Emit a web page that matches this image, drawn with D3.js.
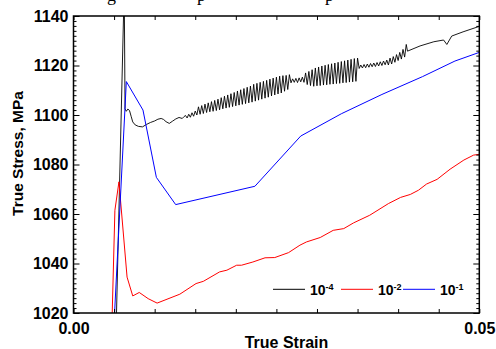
<!DOCTYPE html>
<html>
<head>
<meta charset="utf-8">
<script src="https://cdn.jsdelivr.net/npm/d3@7"></script>
<style>
  body { margin: 0; background: #fff; }
  svg { display: block; }
  text { font-family: Arial, "Liberation Sans", sans-serif; }
</style>
</head>
<body>
<div class="chart"></div>
<script>
// strain rate labels (exponent of 10)
const rates = ['-4', '-2', '-1'];
const colors = ['#000000', '#ff0000', '#0000ff'];

// 10^-4 curve [true strain, true stress MPa]
const black = [
  [0.00523,1010],[0.0053,1020],[0.00625,1152],[0.00635,1102.5],[0.0065,1101.5],[0.0067,1102.4],
  [0.0069,1101.8],[0.0071,1099.5],[0.0073,1097.2],[0.0076,1096.0],[0.0080,1095.4],[0.0085,1095.2],
  [0.0090,1096.2],[0.0095,1097.0],[0.0100,1097.6],[0.0104,1098.3],[0.0108,1098.6],[0.0111,1098.2],
  [0.0114,1097.3],[0.0118,1096.6],[0.0122,1097.5],[0.0126,1098.4],[0.0130,1099.0],[0.0134,1098.6],
  [0.0136,1099.3],
  [0.0138,1099.8],[0.0140,1098.8],[0.0142,1100.3],[0.0144,1099.1],[0.0146,1100.9],[0.0148,1099.5],
  [0.0150,1101.6],
  [0.0152,1100.0],[0.0154,1103.3],[0.0156,1100.3],[0.0158,1103.8],[0.0160,1100.6],[0.0162,1104.4],
  [0.0164,1101.0],[0.0166,1104.9],[0.0168,1101.3],[0.0170,1105.4],[0.0172,1101.5],[0.0174,1105.9],
  [0.0176,1101.8],[0.0178,1106.4],[0.0180,1102.1],[0.0182,1107.0],[0.0184,1102.5],[0.0186,1107.6],
  [0.0188,1102.8],[0.0190,1108.1],[0.0192,1103.1],[0.0194,1108.6],[0.0196,1103.4],[0.0198,1109.1],
  [0.0200,1103.7],[0.0202,1109.7],[0.0204,1104.0],[0.0206,1110.2],[0.0208,1104.3],[0.0210,1110.7],
  [0.0212,1104.6],[0.0214,1111.2],[0.0216,1104.9],[0.0218,1111.7],[0.0220,1105.2],[0.0222,1112.4],
  [0.0224,1105.6],[0.0226,1112.8],[0.0228,1106.0],[0.0230,1113.2],[0.0232,1106.4],[0.0234,1113.6],
  [0.0236,1106.8],[0.0238,1114.0],[0.0240,1107.2],[0.0242,1114.5],[0.0244,1107.7],[0.0246,1114.9],
  [0.0248,1108.1],[0.0250,1115.3],[0.0252,1108.5],[0.0254,1115.7],[0.0256,1108.9],[0.0258,1115.9],
  [0.0260,1109.6],[0.0262,1116.0],[0.0264,1110.3],[0.0266,1116.3],
  [0.0268,1113.0],[0.0270,1114.6],[0.0272,1113.2],[0.0274,1114.8],[0.0276,1113.1],[0.0278,1115.0],
  [0.0280,1113.4],[0.0282,1115.3],[0.0284,1113.2],
  [0.0286,1117.0],[0.0288,1112.3],[0.0290,1117.6],[0.0292,1111.9],[0.0294,1118.3],[0.0296,1111.6],
  [0.0298,1119.0],[0.0300,1111.8],[0.0302,1119.4],[0.0304,1111.9],[0.0306,1119.8],[0.0308,1112.1],
  [0.0310,1120.1],[0.0312,1112.2],[0.0314,1120.4],[0.0316,1112.4],[0.0318,1120.7],[0.0320,1112.5],
  [0.0322,1121.0],[0.0324,1112.7],[0.0326,1121.3],[0.0328,1112.8],[0.0330,1121.6],[0.0332,1113.0],
  [0.0334,1121.9],[0.0336,1113.1],[0.0338,1122.2],[0.0340,1113.3],[0.0342,1122.5],[0.0344,1113.4],
  [0.0346,1122.8],[0.0348,1113.6],[0.0350,1123.0],
  [0.0352,1118.8],[0.0354,1120.2],[0.0356,1119.0],[0.0358,1120.4],[0.0360,1119.1],[0.0362,1120.6],
  [0.0364,1119.3],[0.0366,1120.8],[0.0368,1119.5],[0.0370,1121.0],[0.0372,1119.6],[0.0374,1121.2],
  [0.0376,1119.8],[0.0378,1121.5],[0.0380,1120.0],[0.0382,1121.8],[0.0384,1120.3],[0.0386,1122.2],
  [0.0388,1120.2],[0.0390,1123.0],[0.0392,1120.6],[0.0394,1123.6],[0.0396,1121.3],[0.0398,1124.4],
  [0.0400,1122.0],[0.0402,1125.3],[0.0404,1122.6],[0.0406,1126.5],[0.0408,1123.4],[0.0410,1128.5],
  [0.04115,1125.8],[0.0427,1127.9],[0.0444,1129.6],[0.0456,1130.3],[0.0460,1128.5],[0.0466,1131.9],
  [0.0480,1133.6],[0.0499,1135.7],[0.0500,1135.9]
];

// 10^-2 curve
const red = [
  [0.00469,1010],[0.00477,1020],[0.0051,1061.5],[0.0056,1073],[0.0066,1034.5],[0.0073,1026.9],
  [0.0081,1028.3],[0.0092,1025.8],[0.0103,1024],[0.0131,1027.6],[0.0151,1031.9],[0.0160,1032.8],
  [0.0180,1036.6],[0.0189,1037.3],[0.0201,1039.3],[0.0207,1039.3],[0.0221,1040.6],[0.0236,1042.3],
  [0.0248,1042.4],[0.0265,1044.4],[0.0279,1047.4],[0.0287,1048.7],[0.0304,1050.5],[0.0320,1053.4],
  [0.0333,1054.1],[0.0345,1056.4],[0.0365,1059.5],[0.0388,1064.2],[0.0403,1066.7],[0.0415,1067.9],
  [0.0425,1069.6],[0.0435,1072.1],[0.0448,1074],[0.0464,1078.1],[0.0481,1081.8],[0.0493,1083.8],
  [0.0500,1084.1]
];

// 10^-1 curve
const blue = [
  [0.0049,1010],[0.00506,1020],[0.00651,1113.5],[0.00856,1102],[0.01021,1074.8],[0.01259,1063.8],
  [0.02235,1071.2],[0.0280,1091.5],[0.0330,1100.5],[0.0380,1108.3],[0.0430,1115.5],[0.0470,1121.8],
  [0.0500,1125.3]
];

const series = [black, red, blue];

const width = 496, height = 349;
const pLeft = 73.5, pRight = 479.3, pTop = 16, pBottom = 313;

const svg = d3.select('.chart').append('svg')
  .attr('width', width).attr('height', height);

const x = d3.scaleLinear().domain([0, 0.05]).range([pLeft, pRight]);
const y = d3.scaleLinear().domain([1020, 1140]).range([pBottom, pTop]);

// caption line above, cut off by the top edge (as in the reference)
const caption = [['g', 107], ['p', 197], ['p', 325]];
svg.selectAll('.cap').data(caption).enter().append('text')
  .attr('class', 'cap')
  .attr('x', d => d[1]).attr('y', 0.5)
  .style('font-family', '"Liberation Serif", "Times New Roman", serif')
  .style('font-size', '18px')
  .text(d => d[0]);

svg.append('clipPath').attr('id', 'plot')
  .append('rect').attr('x', pLeft).attr('y', pTop)
  .attr('width', pRight - pLeft).attr('height', pBottom - pTop);

const line = d3.line().x(d => x(d[0])).y(d => y(d[1]));

svg.append('g').attr('clip-path', 'url(#plot)')
  .selectAll('path').data(series).enter().append('path')
  .attr('d', line)
  .attr('fill', 'none')
  .attr('stroke', (d, i) => colors[i])
  .attr('stroke-width', (d, i) => i === 0 ? 0.9 : 1)
  .attr('stroke-linejoin', 'round');

// axes
const xTicks = d3.range(0, 0.05001, 0.005);
const yMajor = d3.range(1020, 1141, 20);
const yMinor = d3.range(1020, 1141, 2).filter(v => v % 20 !== 0);

function styleAxis(g) {
  g.select('.domain').remove();
  g.selectAll('line').attr('stroke', '#000').attr('stroke-width', 1);
  g.selectAll('text').attr('fill', '#000')
    .style('font-weight', 'bold').style('font-size', '16px')
    .style('font-family', 'Arial, "Liberation Sans", sans-serif');
}

svg.append('g').attr('transform', `translate(0,${pBottom})`)
  .call(d3.axisBottom(x).tickValues(xTicks).tickSize(-4).tickPadding(10)
    .tickFormat(d => (Math.abs(d) < 1e-9 || Math.abs(d - 0.05) < 1e-9) ? d3.format('.2f')(d) : ''))
  .call(styleAxis);

svg.append('g').attr('transform', `translate(0,${pTop})`)
  .call(d3.axisTop(x).tickValues(xTicks).tickSize(-4).tickFormat(''))
  .call(styleAxis);

svg.append('g').attr('transform', `translate(${pLeft},0)`)
  .call(d3.axisLeft(y).tickValues(yMajor).tickSize(-6).tickPadding(5).tickFormat(d3.format('d')))
  .call(styleAxis);
svg.append('g').attr('transform', `translate(${pLeft},0)`)
  .call(d3.axisLeft(y).tickValues(yMinor).tickSize(-3).tickFormat(''))
  .call(styleAxis);

svg.append('g').attr('transform', `translate(${pRight},0)`)
  .call(d3.axisRight(y).tickValues(yMajor).tickSize(-6).tickFormat(''))
  .call(styleAxis);
svg.append('g').attr('transform', `translate(${pRight},0)`)
  .call(d3.axisRight(y).tickValues(yMinor).tickSize(-3).tickFormat(''))
  .call(styleAxis);

// frame
svg.append('rect')
  .attr('x', pLeft).attr('y', pTop)
  .attr('width', pRight - pLeft).attr('height', pBottom - pTop)
  .attr('fill', 'none').attr('stroke', '#000').attr('stroke-width', 1.5);

// titles
svg.append('text')
  .attr('x', 286.5).attr('y', 347.5)
  .attr('text-anchor', 'middle')
  .style('font-weight', 'bold').style('font-size', '16px')
  .text('True Strain');

svg.append('text')
  .attr('transform', 'translate(23,153.5) rotate(-90)')
  .attr('text-anchor', 'middle')
  .style('font-weight', 'bold').style('font-size', '15.5px')
  .text('True Stress, MPa');

// legend
const legX = [273, 341, 403];
const legY = 289.3;
const leg = svg.append('g').selectAll('g').data(rates).enter().append('g');
leg.append('line')
  .attr('x1', (d, i) => legX[i]).attr('x2', (d, i) => legX[i] + 32)
  .attr('y1', legY).attr('y2', legY)
  .attr('stroke', (d, i) => colors[i]).attr('stroke-width', 1);
const lt = leg.append('text')
  .attr('x', (d, i) => legX[i] + 37).attr('y', 295)
  .style('font-weight', 'bold').style('font-size', '14px');
lt.append('tspan').text('10');
lt.append('tspan').attr('dy', -5).style('font-size', '9px').text(d => d);
</script>
</body>
</html>
